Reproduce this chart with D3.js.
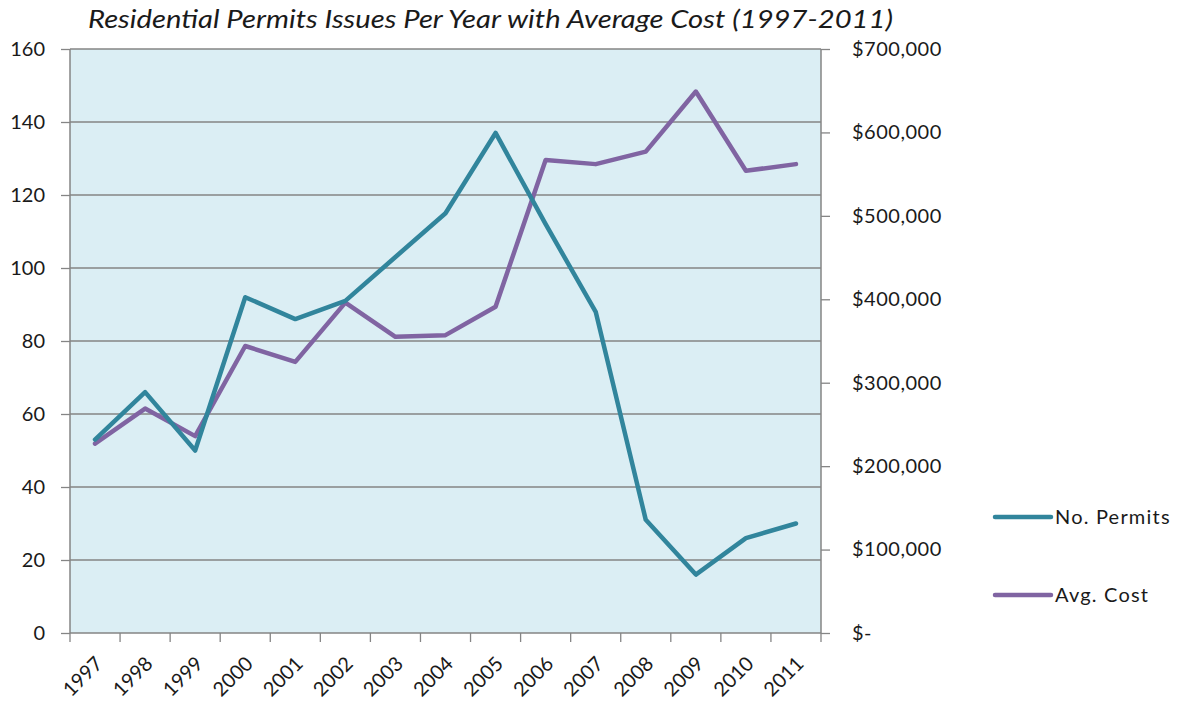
<!DOCTYPE html>
<html>
<head>
<meta charset="utf-8">
<script src="https://cdn.jsdelivr.net/npm/d3@7"></script>
<style>
  body { margin: 0; background: #fff; }
  svg text { font-family: Lato, "Open Sans", sans-serif; fill: #1a1a1a; }
</style>
</head>
<body>
<svg id="chart" width="1180" height="704"></svg>
<script>
// ── DATA ────────────────────────────────────────────
const YEARS   = ['1997','1998','1999','2000','2001','2002','2003','2004','2005','2006','2007','2008','2009','2010','2011'];
const PERMITS = [53, 66, 50, 92, 86, 91, 103, 115, 137, 112, 88, 31, 16, 26, 30];
const COST    = [227000, 269000, 236000, 344000, 325000, 396000, 355000, 357000, 391000, 567000, 562000, 577000, 649000, 554000, 562000];
const LEFT_TICKS  = [0, 20, 40, 60, 80, 100, 120, 140, 160];
const RIGHT_TICKS = [0, 100000, 200000, 300000, 400000, 500000, 600000, 700000];

const TITLE = 'Residential Permits Issues Per Year with Average Cost (1997-2011)';
const SERIES = [
  { name: 'No. Permits', color: '#31859C' },
  { name: 'Avg. Cost',   color: '#8064A2' }
];

// ── LAYOUT ──
const L = 70, R = 821, T = 49, B = 633;
const FS = 20;
const svg = d3.select('#chart');

const x  = d3.scaleBand().domain(YEARS).range([L, R]);
const yL = d3.scaleLinear().domain([0, 160]).range([B, T]);
const yR = d3.scaleLinear().domain([0, 700000]).range([B, T]);
const cx = d => x(d) + x.bandwidth() / 2;

// plot background
svg.append('rect')
  .attr('x', L).attr('y', T).attr('width', R - L).attr('height', B - T)
  .attr('fill', '#DBEEF4');

// gridlines
svg.append('g').selectAll('line').data(LEFT_TICKS.slice(1)).enter().append('line')
  .attr('x1', L).attr('x2', R)
  .attr('y1', d => yL(d)).attr('y2', d => yL(d))
  .attr('stroke', '#858585').attr('stroke-width', 1.3);

// left axis
const axL = d3.axisLeft(yL).tickValues(LEFT_TICKS).tickSize(9).tickPadding(16);
const gL = svg.append('g').attr('transform', `translate(${L},0)`).call(axL);
gL.select('.domain').attr('stroke', '#858585').attr('stroke-width', 1.5).attr('d', `M0,${T}V${B}`);
gL.selectAll('.tick line').attr('stroke', '#858585').attr('stroke-width', 1.3);
gL.selectAll('.tick text').attr('font-size', FS).style('font-family', 'Lato, sans-serif').attr('fill', '#1a1a1a');

// right axis
const fmtCost = d => d === 0 ? '$-' : '$' + d3.format(',')(d);
const axR = d3.axisRight(yR).tickValues(RIGHT_TICKS).tickSize(9).tickPadding(22).tickFormat(fmtCost);
const gR = svg.append('g').attr('transform', `translate(${R},0)`).call(axR);
gR.select('.domain').attr('stroke', '#858585').attr('stroke-width', 1.5).attr('d', `M0,${T}V${B}`);
gR.selectAll('.tick line').attr('stroke', '#858585').attr('stroke-width', 1.3);
gR.selectAll('.tick text').attr('font-size', FS).style('font-family', 'Lato, sans-serif').attr('fill', '#1a1a1a')
  .attr('letter-spacing', 0.5);

// bottom axis: ticks on band edges
const gB = svg.append('g');
gB.append('line').attr('x1', L).attr('x2', R).attr('y1', B).attr('y2', B)
  .attr('stroke', '#858585').attr('stroke-width', 1.5);
gB.selectAll('line.tk').data([...YEARS.map(d => x(d)), R]).enter().append('line')
  .attr('class', 'tk')
  .attr('x1', d => d).attr('x2', d => d).attr('y1', B).attr('y2', B + 9)
  .attr('stroke', '#858585').attr('stroke-width', 1.3);
gB.selectAll('text').data(YEARS).enter().append('text')
  .attr('transform', d => `translate(${cx(d) + 4},${B + 27}) rotate(-45)`)
  .attr('text-anchor', 'end').attr('dy', '0.35em')
  .attr('font-size', FS)
  .text(d => d);

// lines
const linePermits = d3.line().x((d, i) => cx(YEARS[i])).y(d => yL(d));
const lineCost    = d3.line().x((d, i) => cx(YEARS[i])).y(d => yR(d));

svg.append('path').datum(COST)
  .attr('d', lineCost).attr('fill', 'none')
  .attr('stroke', SERIES[1].color).attr('stroke-width', 4.5)
  .attr('stroke-linejoin', 'round').attr('stroke-linecap', 'round');

svg.append('path').datum(PERMITS)
  .attr('d', linePermits).attr('fill', 'none')
  .attr('stroke', SERIES[0].color).attr('stroke-width', 4.5)
  .attr('stroke-linejoin', 'round').attr('stroke-linecap', 'round');

// title
svg.append('text')
  .attr('x', 88).attr('y', 28)
  .attr('font-size', 25).attr('font-style', 'italic')
  .attr('textLength', 805).attr('lengthAdjust', 'spacingAndGlyphs')
  .text(TITLE);

// legend
const leg = svg.append('g').selectAll('g').data(SERIES).enter().append('g')
  .attr('transform', (d, i) => `translate(995,${517 + i * 78})`);
leg.append('line').attr('x1', 0).attr('x2', 56).attr('y1', 0).attr('y2', 0)
  .attr('stroke', d => d.color).attr('stroke-width', 4.5).attr('stroke-linecap', 'round');
leg.append('text').attr('x', 60).attr('dy', '0.35em').attr('font-size', FS)
  .attr('letter-spacing', 1.2)
  .text(d => d.name);
</script>
</body>
</html>
